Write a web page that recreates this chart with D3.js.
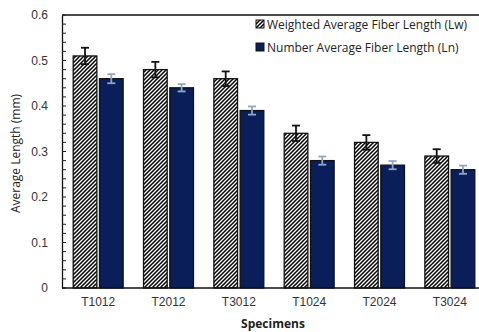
<!DOCTYPE html>
<html>
<head>
<meta charset="utf-8">
<script src="https://cdn.jsdelivr.net/npm/d3@7"></script>
<style>
  html, body { margin: 0; padding: 0; background: #fff; }
  svg { display: block; font-family: "Open Sans", "Noto Sans", sans-serif; }
</style>
</head>
<body>
<svg id="chart" width="479" height="332"></svg>
<script>
// Specimens and fiber length measurements (mm)
const categories = ["T1012", "T2012", "T3012", "T1024", "T2024", "T3024"];
const seriesNames = ["Weighted Average Fiber Length (Lw)", "Number Average Fiber Length (Ln)"];
const lwValues = [0.51, 0.48, 0.46, 0.34, 0.32, 0.29];
const lnValues = [0.46, 0.44, 0.39, 0.28, 0.27, 0.26];
const lwErrors = [0.018, 0.017, 0.016, 0.017, 0.016, 0.015];
const lnErrors = [0.010, 0.008, 0.009, 0.009, 0.009, 0.009];
const yTicks = [0, 0.1, 0.2, 0.3, 0.4, 0.5, 0.6];

const svg = d3.select("#chart");
const m = { left: 62, right: 485, top: 15, bottom: 288 };

// diagonal "/" hatch used by the Lw bars, on a 4px pixel-aligned tile
const defs = svg.append("defs");
const pat = defs.append("pattern")
  .attr("id", "hatch").attr("patternUnits", "userSpaceOnUse")
  .attr("width", 4).attr("height", 4);
pat.append("rect").attr("width", 4).attr("height", 4).attr("fill", "#fff");
pat.append("path").attr("d", "M-1,5 L5,-1 M-1,1 L1,-1 M3,5 L5,3")
  .attr("stroke", "#000").attr("stroke-width", 1.5);

const x0 = d3.scaleBand().domain(categories).range([m.left + 1, m.right]).paddingInner(0.29).paddingOuter(0.145);
const x1 = d3.scaleBand().domain([0, 1]).range([0, x0.bandwidth()]).paddingInner(0.1);
const y = d3.scaleLinear().domain([0, 0.6]).range([m.bottom, m.top]);

// top frame line
svg.append("line").attr("x1", m.left).attr("x2", 479).attr("y1", y(0.6)).attr("y2", y(0.6))
  .attr("stroke", "#111").attr("stroke-width", 1.3);

// y axis with inside minor ticks
const yAxis = svg.append("g").attr("transform", `translate(${m.left},0)`)
  .call(d3.axisLeft(y).tickValues(yTicks).tickFormat(d => d === 0 ? "0" : d3.format(".1f")(d)).tickSize(0).tickPadding(14));
yAxis.select(".domain").attr("stroke", "#111").attr("stroke-width", 1.3);
yAxis.selectAll("text").attr("font-size", 12).attr("fill", "#333");
const minor = d3.range(0, 0.6001, 0.02);
svg.append("g").selectAll("line").data(minor).join("line")
  .attr("x1", m.left).attr("x2", m.left + 4)
  .attr("y1", d => y(d)).attr("y2", d => y(d))
  .attr("stroke", "#222").attr("stroke-width", 1);

const series = [
  { vals: lwValues, errs: lwErrors, fill: "url(#hatch)", errColor: "#111" },
  { vals: lnValues, errs: lnErrors, fill: "#0a1e5a", errColor: "#8fa6c4" }
];

series.forEach((s, si) => {
  const g = svg.append("g");
  g.selectAll("rect").data(categories).join("rect")
    .attr("x", c => x0(c) + x1(si))
    .attr("width", x1.bandwidth())
    .attr("y", (c, i) => y(s.vals[i]))
    .attr("height", (c, i) => y(0) - y(s.vals[i]))
    .attr("fill", s.fill)
    .attr("stroke", "#111").attr("stroke-width", 1.3);
  const eb = svg.append("g").attr("stroke", s.errColor).attr("stroke-width", 1.8);
  categories.forEach((c, i) => {
    const cx = x0(c) + x1(si) + x1.bandwidth() / 2;
    const hi = y(s.vals[i] + s.errs[i]), lo = y(s.vals[i] - s.errs[i]);
    eb.append("line").attr("x1", cx).attr("x2", cx).attr("y1", hi).attr("y2", lo);
    eb.append("line").attr("x1", cx - 4).attr("x2", cx + 4).attr("y1", hi).attr("y2", hi);
    eb.append("line").attr("x1", cx - 4).attr("x2", cx + 4).attr("y1", lo).attr("y2", lo);
  });
});

// x axis
const xAxis = svg.append("g").attr("transform", `translate(0,${m.bottom})`)
  .call(d3.axisBottom(x0).tickSize(0).tickPadding(9));
xAxis.select(".domain").remove();
xAxis.selectAll("text").attr("font-size", 12).attr("fill", "#333");
svg.append("line").attr("x1", m.left).attr("x2", 479).attr("y1", m.bottom).attr("y2", m.bottom)
  .attr("stroke", "#111").attr("stroke-width", 1.3);

// axis titles
svg.append("text").attr("x", 273).attr("y", 328).attr("text-anchor", "middle")
  .attr("font-size", 12).attr("font-weight", "bold").attr("fill", "#222").text("Specimens");
svg.append("text").attr("transform", `translate(20,${(m.top + m.bottom) / 2 + 2}) rotate(-90)`)
  .attr("text-anchor", "middle").attr("font-size", 12).attr("fill", "#222").text("Average Length (mm)");

// legend
const legend = svg.append("g").attr("transform", "translate(256,24)");
seriesNames.forEach((name, i) => {
  const row = legend.append("g").attr("transform", `translate(0,${i * 23})`);
  row.append("rect").attr("x", 0).attr("y", -4).attr("width", 8).attr("height", 8)
    .attr("fill", i === 0 ? "url(#hatch)" : series[i].fill).attr("stroke", "#111").attr("stroke-width", 1);
  row.append("text").attr("x", 11).attr("y", 4.5).attr("font-size", 12).attr("fill", "#222").text(name);
});
</script>
</body>
</html>
